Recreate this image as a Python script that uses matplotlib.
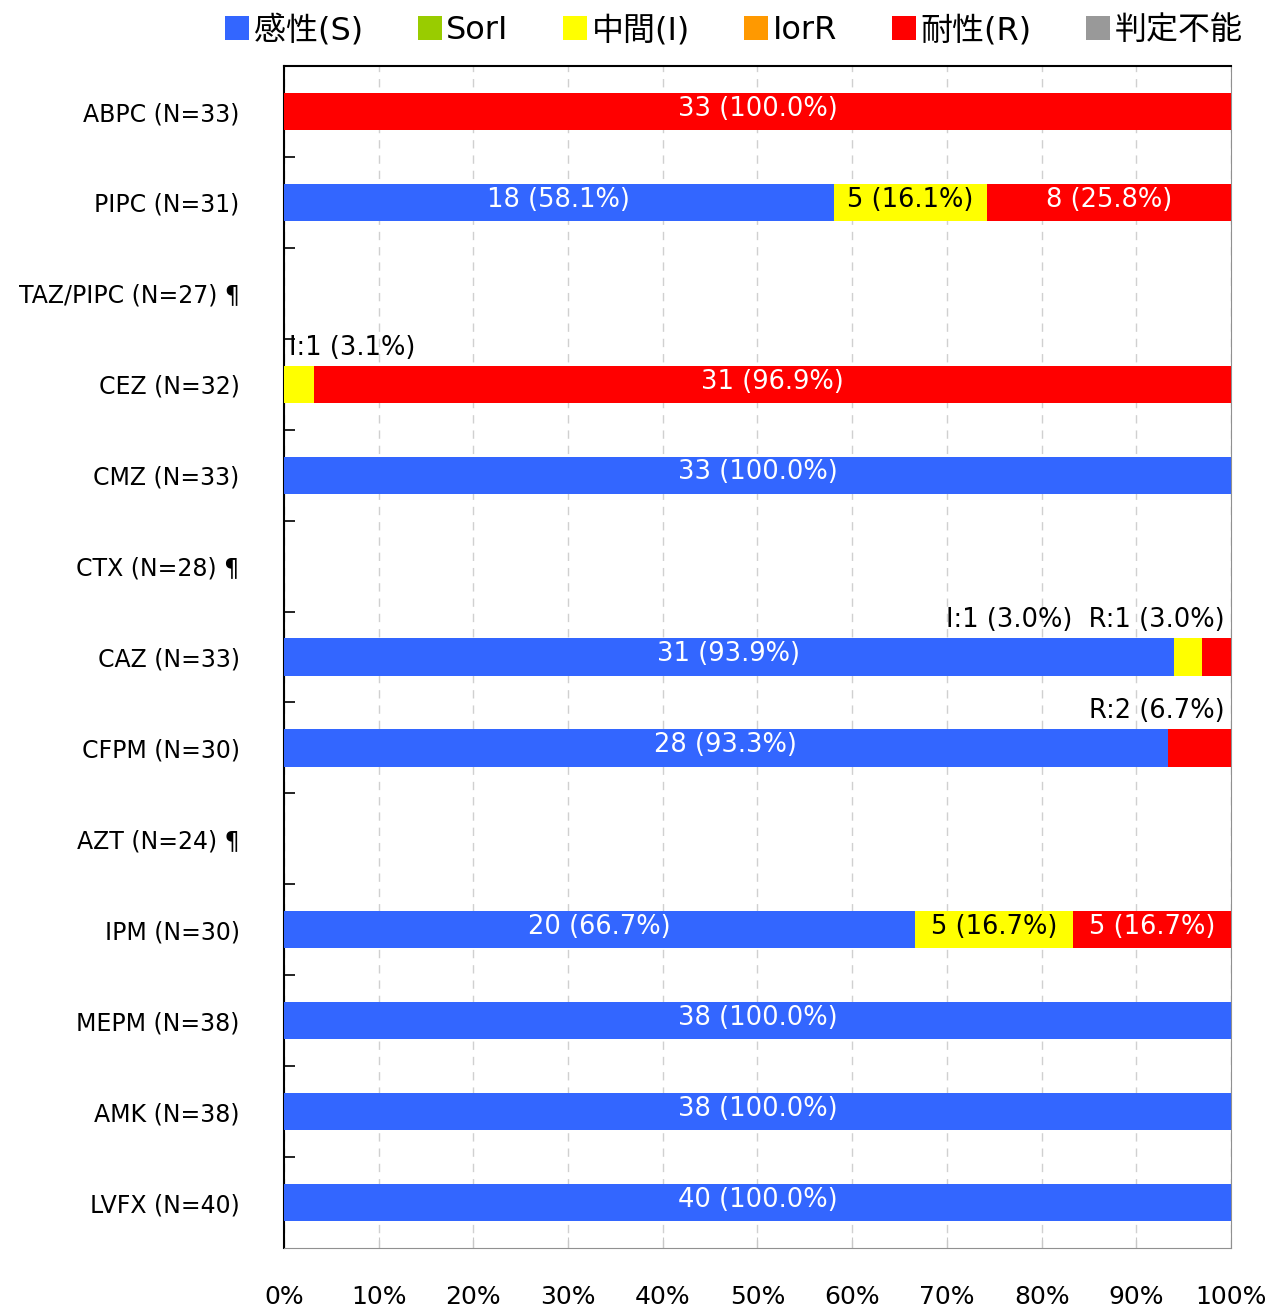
"""Stacked susceptibility bars for each antimicrobial."""

import matplotlib

matplotlib.use("Agg")
import matplotlib.pyplot as plt
import matplotlib.transforms as mtransforms
import numpy as np
from matplotlib.patches import Patch
from matplotlib.ticker import FixedLocator, FuncFormatter

plt.rcParams["font.family"] = ["DejaVu Sans", "Noto Sans CJK JP"]

# Data
drugs = ["ABPC", "PIPC", "TAZ/PIPC", "CEZ", "CMZ", "CTX", "CAZ",
         "CFPM", "AZT", "IPM", "MEPM", "AMK", "LVFX"]
n_total = [33, 31, 27, 32, 33, 28, 33, 30, 24, 30, 38, 38, 40]
no_data = ["TAZ/PIPC", "CTX", "AZT"]
s_counts = [0, 18, 0, 0, 33, 0, 31, 28, 0, 20, 38, 38, 40]
sori_counts = [0] * 13
i_counts = [0, 5, 0, 1, 0, 0, 1, 0, 0, 5, 0, 0, 0]
iorr_counts = [0] * 13
r_counts = [33, 8, 0, 31, 0, 0, 1, 2, 0, 5, 0, 0, 0]
nd_counts = [0] * 13

legend_labels = ["感性(S)", "SorI", "中間(I)", "IorR", "耐性(R)", "判定不能"]
short_keys = ["S", "SorI", "I", "IorR", "R", "ND"]
colors = ["#3366FF", "#99CC00", "#FFFF00", "#FF9900", "#FF0000", "#999999"]
text_colors = ["white", "black", "black", "black", "white", "white"]

series = [s_counts, sori_counts, i_counts, iorr_counts, r_counts, nd_counts]
FS_BAR = 18.5
FS_CAT = 17
FS_X = 18

fig = plt.figure(figsize=(12.7, 13.08), dpi=100)
ax = fig.add_axes([0.2236, 0.0459, 0.7457, 0.9036])

y = np.arange(len(drugs))
left = np.zeros(len(drugs))
small_notes = {i: [] for i in range(len(drugs))}

for k, counts in enumerate(series):
    counts = np.array(counts, dtype=float)
    pct = counts / np.array(n_total) * 100
    ax.barh(y, pct, left=left, height=0.41, color=colors[k], zorder=3)
    for i, (c, p) in enumerate(zip(counts, pct)):
        if c <= 0:
            continue
        if p >= 10:
            ax.text(left[i] + p / 2, y[i] - 0.03, f"{int(c)} ({p:.1f}%)",
                    ha="center", va="center", fontsize=FS_BAR,
                    color=text_colors[k], zorder=4)
        else:
            small_notes[i].append((left[i], f"{short_keys[k]}:{int(c)} ({p:.1f}%)"))
    left += pct

for i, notes in small_notes.items():
    if not notes:
        continue
    txt = "  ".join(t for _, t in notes)
    if notes[0][0] == 0:
        ax.text(0.5, y[i] - 0.26, txt, ha="left", va="bottom",
                fontsize=FS_BAR, zorder=4)
    else:
        ax.text(99.3, y[i] - 0.26, txt, ha="right", va="bottom",
                fontsize=FS_BAR, zorder=4)

labels = [f"{d} (N={n})" + (" ¶" if d in no_data else "")
          for d, n in zip(drugs, n_total)]
ax.set_yticks(y)
ax.set_yticklabels(labels, fontsize=FS_CAT)
# nudge category labels up a little
shift = mtransforms.ScaledTranslation(0, 3 / 72, fig.dpi_scale_trans)
for lbl in ax.get_yticklabels():
    lbl.set_transform(lbl.get_transform() + shift)
ax.yaxis.set_minor_locator(FixedLocator(np.arange(0.5, len(drugs) - 1, 1)))
ax.tick_params(axis="y", which="major", length=0, pad=32)
ax.tick_params(axis="y", which="minor", length=8, direction="in",
               width=1.2, color="black")
ax.set_ylim(len(drugs) - 0.5, -0.5)

ax.set_xlim(0, 100)
ax.set_xticks(np.arange(0, 101, 10))
ax.xaxis.set_major_formatter(FuncFormatter(lambda v, _: f"{int(v)}%"))
ax.tick_params(axis="x", which="major", length=8, direction="in",
               color="#c8c8c8", labelsize=FS_X, pad=27)
ax.grid(axis="x", linestyle=(0, (6, 5)), color="#d0d0d0", linewidth=1, zorder=0)

ax.spines["left"].set_color("black")
ax.spines["left"].set_linewidth(1.5)
ax.spines["top"].set_color("black")
ax.spines["top"].set_linewidth(1.5)
ax.spines["right"].set_color("#909090")
ax.spines["bottom"].set_color("#909090")

handles = [Patch(facecolor=c, edgecolor="none") for c in colors]
fig.legend(handles, legend_labels, loc="upper center", ncol=6,
           bbox_to_anchor=(0.578, 1.011), frameon=False, fontsize=23,
           handlelength=0.75, handleheight=0.75, handletextpad=0.15,
           columnspacing=1.7)

fig.savefig("out.png", dpi=100)
